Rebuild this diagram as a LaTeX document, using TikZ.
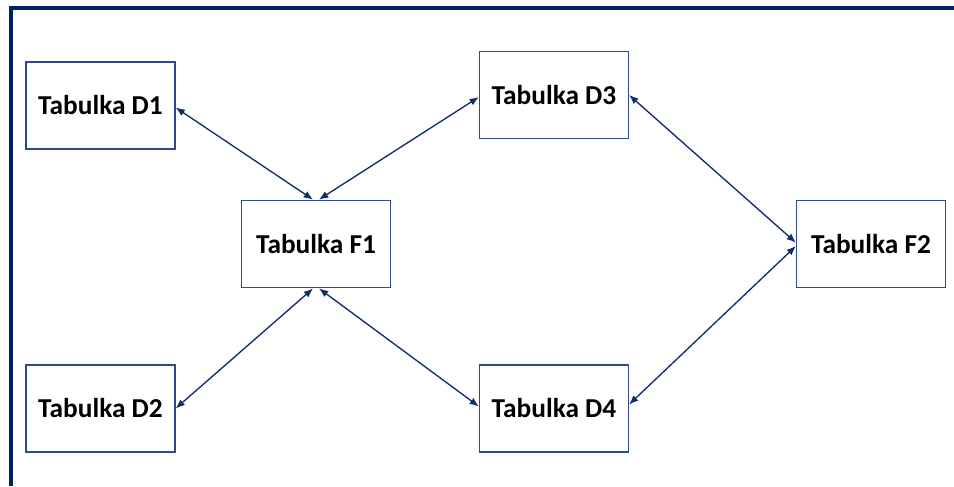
\documentclass[tikz,border=0pt]{standalone}
\usepackage{fontspec}
\setmainfont{Carlito}
\usetikzlibrary{arrows.meta}
\definecolor{navy}{HTML}{002060}
\definecolor{boxblue}{HTML}{2F4A86}
\definecolor{arrowblue}{HTML}{0F2C6E}
\newcommand{\tlabel}[1]{\raisebox{-1.8pt}{#1}}
\begin{document}
\begin{tikzpicture}[x=0.75pt,y=-0.75pt,
  tbl/.style={draw=boxblue, line width=1.1pt, fill=white, minimum width=111.5pt, minimum height=65.5pt, inner sep=0pt, font=\fontsize{20.5}{24}\selectfont\bfseries, text=black},
  link/.style={draw=arrowblue, line width=1pt, {Latex[length=7pt,width=5.5pt]}-{Latex[length=7pt,width=5.5pt]}}]
\useasboundingbox (0,0) rectangle (954,486);
\fill[white] (0,0) rectangle (954,486);
% frame
\draw[navy, line width=3pt] (954,8) -- (11,8) -- (11,486);
% tables
\node[tbl] (D1) at (100.5,105.5) {\tlabel{Tabulka D1}};
\node[tbl] (F1) at (316,244) {\tlabel{Tabulka F1}};
\node[tbl] (D3) at (554,95) {\tlabel{Tabulka D3}};
\node[tbl] (F2) at (871,244) {\tlabel{Tabulka F2}};
\node[tbl] (D2) at (100.5,408.5) {\tlabel{Tabulka D2}};
\node[tbl] (D4) at (554,408.5) {\tlabel{Tabulka D4}};
% connectors
\draw[link] ([yshift=-1.5pt]D1.east) -- ([xshift=-2.2pt]F1.north);
\draw[link] ([xshift=2.2pt]F1.north) -- ([yshift=-1.5pt]D3.west);
\draw[link] ([yshift=0pt]D2.east) -- ([xshift=-2.2pt]F1.south);
\draw[link] ([xshift=2.2pt]F1.south) -- ([yshift=1.5pt]D4.west);
\draw[link] ([yshift=0pt]D3.east) -- ([yshift=1pt]F2.west);
\draw[link] ([yshift=3pt]D4.east) -- ([yshift=-1.5pt]F2.west);
\end{tikzpicture}
\end{document}
